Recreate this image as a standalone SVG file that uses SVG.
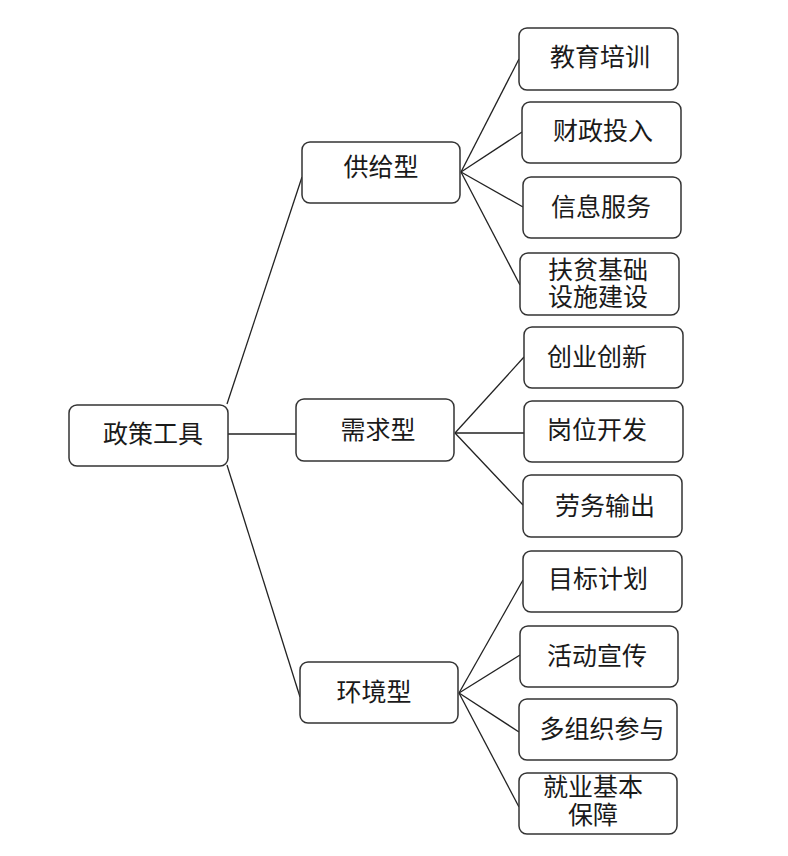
<svg xmlns="http://www.w3.org/2000/svg" width="788" height="856" viewBox="0 0 788 856">
<style>
.box{fill:#fff;stroke:#333;stroke-width:1.5}
.t{font-family:"Liberation Serif","Noto Sans CJK SC",serif;font-size:25px;fill:#1a1a1a;text-anchor:middle;dominant-baseline:central}
.c{stroke:#222;stroke-width:1.3;fill:none}
</style>
<rect width="788" height="856" fill="#fff"/>
<g id="connectors">
<line class="c" x1="227" y1="404" x2="302" y2="177"/>
<line class="c" x1="228" y1="434" x2="296" y2="434"/>
<line class="c" x1="227" y1="465" x2="300" y2="697"/>
<line class="c" x1="461" y1="172" x2="519" y2="59"/>
<line class="c" x1="461" y1="172" x2="522" y2="132"/>
<line class="c" x1="461" y1="172" x2="523" y2="207"/>
<line class="c" x1="461" y1="172" x2="520" y2="285"/>
<line class="c" x1="455" y1="433" x2="524" y2="357"/>
<line class="c" x1="455" y1="433" x2="524" y2="433"/>
<line class="c" x1="455" y1="433" x2="523" y2="505"/>
<line class="c" x1="459" y1="693" x2="523" y2="580"/>
<line class="c" x1="459" y1="693" x2="520" y2="655"/>
<line class="c" x1="459" y1="693" x2="519" y2="732"/>
<line class="c" x1="459" y1="693" x2="519" y2="807"/>
</g>
<g id="root"><rect class="box" x="69" y="405" width="159" height="61" rx="8"/><text class="t" x="153" y="434">政策工具</text></g>
<g id="supply"><rect class="box" x="302" y="142" width="158" height="61" rx="8"/><text class="t" x="381" y="167">供给型</text></g>
<g id="demand"><rect class="box" x="296" y="399" width="158" height="62" rx="8"/><text class="t" x="378" y="430">需求型</text></g>
<g id="environment"><rect class="box" x="300" y="662" width="158" height="61" rx="8"/><text class="t" x="374" y="692">环境型</text></g>
<g id="s1"><rect class="box" x="519" y="28" width="159" height="62" rx="8"/><text class="t" x="600" y="57">教育培训</text></g>
<g id="s2"><rect class="box" x="522" y="102" width="159" height="61" rx="8"/><text class="t" x="603" y="131">财政投入</text></g>
<g id="s3"><rect class="box" x="523" y="177" width="158" height="61" rx="8"/><text class="t" x="601" y="207">信息服务</text></g>
<g id="s4"><rect class="box" x="520" y="253" width="159" height="62" rx="8"/><text class="t" x="598" y="270">扶贫基础</text><text class="t" x="598" y="297">设施建设</text></g>
<g id="d1"><rect class="box" x="524" y="327" width="159" height="61" rx="8"/><text class="t" x="597" y="357">创业创新</text></g>
<g id="d2"><rect class="box" x="524" y="401" width="159" height="61" rx="8"/><text class="t" x="597" y="430">岗位开发</text></g>
<g id="d3"><rect class="box" x="523" y="475" width="159" height="62" rx="8"/><text class="t" x="605" y="506">劳务输出</text></g>
<g id="e1"><rect class="box" x="523" y="551" width="159" height="61" rx="8"/><text class="t" x="598" y="579">目标计划</text></g>
<g id="e2"><rect class="box" x="520" y="626" width="158" height="61" rx="8"/><text class="t" x="597" y="656">活动宣传</text></g>
<g id="e3"><rect class="box" x="519" y="699" width="158" height="61" rx="8"/><text class="t" x="602" y="729">多组织参与</text></g>
<g id="e4"><rect class="box" x="519" y="773" width="158" height="61" rx="8"/><text class="t" x="593" y="787">就业基本</text><text class="t" x="593" y="815">保障</text></g>
</svg>
